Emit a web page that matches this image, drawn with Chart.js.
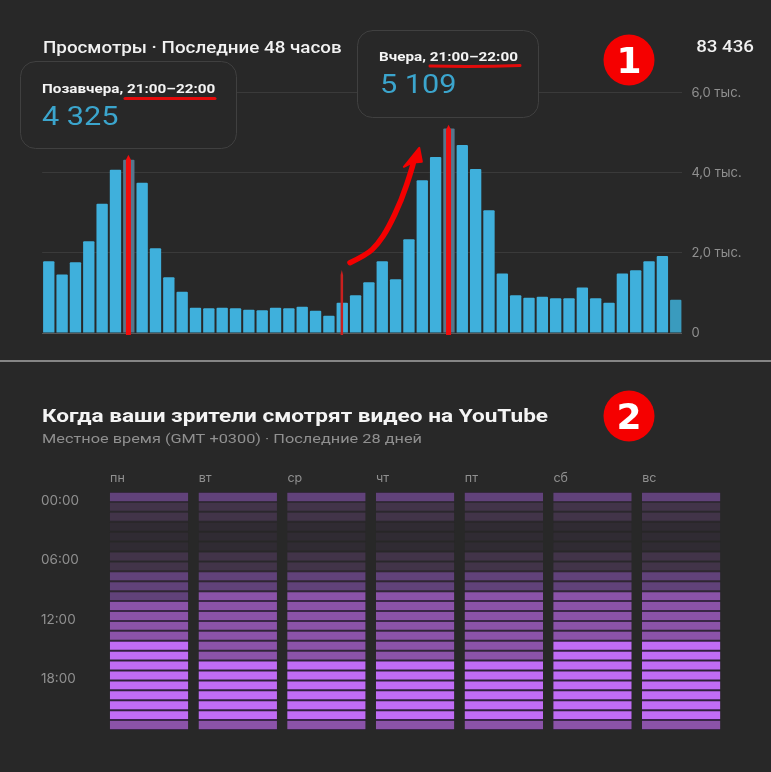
<!DOCTYPE html>
<html lang="ru">
<head>
<meta charset="utf-8">
<title>Просмотры</title>
<script src="https://cdn.jsdelivr.net/npm/chart.js@4"></script>
<style>
html,body{margin:0;padding:0;background:#282828;width:771px;height:772px;overflow:hidden}
canvas{position:absolute;left:0;display:block}
#viewsChart{top:0}
#heatChart{top:362px}
#sep{position:absolute;left:0;top:360px;width:771px;height:2px;background:#858585}
</style>
</head>
<body>
<canvas id="viewsChart" width="771" height="360"></canvas>
<div id="sep"></div>
<canvas id="heatChart" width="771" height="410"></canvas>
<script>
const hourSlots = ['00','01','02','03','04','05','06','07','08','09','10','11','12','13','14','15','16','17','18','19','20','21','22','23','00','01','02','03','04','05','06','07','08','09','10','11','12','13','14','15','16','17','18','19','20','21','22','23'];
const views = [1790,1458,1767,2290,3225,4075,4325,3750,2117,1392,1033,633,617,633,617,583,567,633,617,658,558,433,758,942,1267,1790,1342,2342,3817,4392,5109,4692,4092,3067,1483,942,883,908,867,867,1133,867,758,1483,1567,1792,1925,833];
const viewTicks = [0,2000,4000,6000];
const viewTickLabels = ['0','2,0 тыс.','4,0 тыс.','6,0 тыс.'];
const dayLabels = ['пн','вт','ср','чт','пт','сб','вс'];
const hourTickLabels = ['00:00','06:00','12:00','18:00'];
const hourTicks = [0,6,12,18];
const heatMon = [3,2,2,1,1,1,2,2,3,3,3,4,4,4,4,6,6,6,6,6,6,6,6,4];
const heatTue = [3,2,2,1,1,1,2,2,3,3,4,4,4,4,4,4,4,6,6,6,6,6,6,4];
const heatWed = [3,2,2,1,1,1,2,2,3,3,4,4,4,4,4,4,4,6,6,6,6,6,6,4];
const heatThu = [3,2,2,1,1,1,2,2,3,3,4,4,4,4,4,4,4,6,6,6,6,6,6,4];
const heatFri = [3,2,2,1,1,1,2,2,3,3,4,4,4,4,4,4,4,6,6,6,6,6,6,4];
const heatSat = [3,2,2,1,1,1,2,2,3,3,4,4,4,4,4,6,6,6,6,6,6,6,6,4];
const heatSun = [3,2,2,1,1,1,2,2,3,3,4,4,4,4,4,6,6,6,6,6,6,6,6,4];
const heatDays = [heatMon,heatTue,heatWed,heatThu,heatFri,heatSat,heatSun];
const levelFill = {1:'#302b33',2:'#423449',3:'#61427a',4:'#8b53a9',6:'#c06cf5'};
const levelGap = {1:'#2a282a',2:'#2f2a33',3:'#35283d',4:'#3a2748',6:'#3b1f50'};

const BG = '#282828', RED = '#f40000';
const FONT = 'Roboto, sans-serif';

// the reference's type is set about a fifth wider than the font's natural width
function txt(ctx,s,x,y,font,color,sx,align){
  ctx.save();
  ctx.translate(x,y); ctx.scale(sx||1,1);
  ctx.font = font; ctx.fillStyle = color; ctx.textAlign = align||'left'; ctx.textBaseline='alphabetic';
  ctx.fillText(s,0,0);
  ctx.restore();
}
function roundBox(ctx,x,y,w,h,r){
  ctx.beginPath(); ctx.roundRect(x,y,w,h,r);
  ctx.fillStyle = BG; ctx.fill();
  ctx.strokeStyle = '#404040'; ctx.lineWidth = 1; ctx.stroke();
}
function badge(ctx,x,y,r,s){
  ctx.beginPath(); ctx.arc(x,y,r,0,Math.PI*2); ctx.fillStyle = '#f50000'; ctx.fill();
  ctx.font = 'bold 36px "DejaVu Sans"'; ctx.fillStyle='#fff'; ctx.textAlign='center'; ctx.textBaseline='alphabetic';
  ctx.fillText(s,x,y+13);
}

const viewsOverlay = {
  id:'viewsOverlay',
  afterDraw(chart){
    const ctx = chart.ctx, X = chart.scales.x, Y = chart.scales.y;
    const P = (i,v)=>[X.getPixelForValue(i),Y.getPixelForValue(v)];
    ctx.save();
    ctx.lineCap='round';
    const needle=(i,top,w,color)=>{
      const x=X.getPixelForValue(i)-0.4, yT=Y.getPixelForValue(top), yB=Y.getPixelForValue(-50);
      ctx.fillStyle=color;
      ctx.beginPath();
      ctx.moveTo(x,yT); ctx.lineTo(x+w/2,yT+5); ctx.lineTo(x+w/2,yB); ctx.lineTo(x-w/2,yB); ctx.lineTo(x-w/2,yT+5);
      ctx.closePath(); ctx.fill();
    };
    needle(6,4450,5,'#f20c0c');
    needle(30,5200,5,'#f20c0c');
    needle(22,1575,2.5,'#c9201f');
    // curved arrow, smoothed through midpoints
    const pts=[[22.58,1757],[23.83,1950],[24.68,2225],[25.45,2617],[26.45,3325],[27.2,4075],[27.42,4375]].map(p=>P(p[0],p[1]));
    ctx.strokeStyle=RED; ctx.lineWidth=5.5; ctx.lineJoin='round';
    ctx.beginPath(); ctx.moveTo(pts[0][0],pts[0][1]);
    for(let k=1;k<pts.length-1;k++){
      ctx.quadraticCurveTo(pts[k][0],pts[k][1],(pts[k][0]+pts[k+1][0])/2,(pts[k][1]+pts[k+1][1])/2);
    }
    ctx.lineTo(pts[pts.length-1][0],pts[pts.length-1][1]);
    ctx.stroke();
    const tip=P(27.77,4625), hl=P(26.62,4150), hr=P(27.97,4275), hm=P(27.2,4250);
    ctx.fillStyle=RED; ctx.lineWidth=2;
    ctx.beginPath(); ctx.moveTo(tip[0],tip[1]); ctx.lineTo(hr[0],hr[1]); ctx.lineTo(hm[0],hm[1]); ctx.lineTo(hl[0],hl[1]); ctx.closePath(); ctx.fill(); ctx.stroke();

    txt(ctx,'Просмотры · Последние 48 часов',43,53,'500 15.6px '+FONT,'#f1f1f1',1.205);
    txt(ctx,'83 436',754,52,'500 15.6px '+FONT,'#f1f1f1',1.2,'right');
    roundBox(ctx,20.5,61.5,216,87,15);
    txt(ctx,'Позавчера, 21:00–22:00',42,93,'bold 12.5px '+FONT,'#f4f4f4',1.22);
    txt(ctx,'4 325',42,125,'26px '+FONT,'#3ba5cd',1.18);
    roundBox(ctx,357.5,30.5,181,87,15);
    txt(ctx,'Вчера, 21:00–22:00',379,61,'bold 12.5px '+FONT,'#f4f4f4',1.22);
    txt(ctx,'5 109',380,93,'26px '+FONT,'#3ba5cd',1.18);
    ctx.strokeStyle='#e30b0b'; ctx.lineWidth=3;
    ctx.beginPath(); ctx.moveTo(125,98.5); ctx.lineTo(215,98.5); ctx.stroke();
    ctx.beginPath(); ctx.moveTo(430,66); ctx.quadraticCurveTo(475,67,520,65.5); ctx.stroke();
    badge(ctx,629,60,25.5,'1');
    ctx.restore();
  }
};

new Chart(document.getElementById('viewsChart'),{
  type:'bar',
  data:{labels:hourSlots,datasets:[{
    data:views,
    backgroundColor:views.map((v,i)=>(i===6||i===30)?'#55768c':(i===views.length-1?'#3a9bbe':'#3fb0dc')),
    categoryPercentage:1,barPercentage:0.85,borderRadius:{topLeft:1,topRight:1}
  }]},
  options:{
    responsive:false,animation:false,
    layout:{padding:{left:42.1,right:0,top:92.7,bottom:27}},
    plugins:{legend:{display:false},tooltip:{enabled:false}},
    scales:{
      x:{display:false},
      y:{position:'right',min:0,max:6000,
        afterFit(s){s.width=771-682.4;},
        afterBuildTicks(s){s.ticks=viewTicks.map(v=>({value:v}));},
        border:{display:false},
        grid:{drawTicks:false,tickLength:0,color:c=>c.tick&&c.tick.value===0?'#5a5a5a':'#3a3a3a',lineWidth:1},
        ticks:{padding:9,color:'#909090',font:{family:'Inter',size:13},
          callback:(v)=>viewTickLabels[viewTicks.indexOf(v)]}
      }
    }
  },
  plugins:[viewsOverlay]
});

const heatOverlay = {
  id:'heatOverlay',
  afterDraw(chart){
    const ctx=chart.ctx;
    ctx.save();
    txt(ctx,'Когда ваши зрители смотрят видео на YouTube',42,60,'bold 18px '+FONT,'#f4f4f4',1.255);
    txt(ctx,'Местное время (GMT +0300) · Последние 28 дней',42,81,'13.6px '+FONT,'#909090',1.2);
    badge(ctx,629,54,25.5,'2');
    ctx.restore();
  }
};

const hourIndex = heatMon.map((_,h)=>h);
new Chart(document.getElementById('heatChart'),{
  type:'bar',
  data:{labels:dayLabels,datasets:hourIndex.map(h=>({
    data:heatDays.map(()=>1),
    backgroundColor:heatDays.map(d=>levelFill[d[h]]),
    borderColor:heatDays.map(d=>levelGap[d[h]]),
    borderWidth:{top:1,bottom:1,left:0,right:0},
    borderSkipped:false,
    categoryPercentage:1,barPercentage:0.885
  }))},
  options:{
    responsive:false,animation:false,
    layout:{padding:{left:41,right:771-725.5,top:0,bottom:42}},
    plugins:{legend:{display:false},tooltip:{enabled:false}},
    scales:{
      x:{position:'top',stacked:true,
        afterFit(s){s.height=130;},
        border:{display:false},grid:{display:false,drawTicks:false},
        ticks:{padding:6,align:'start',labelOffset:-39,maxRotation:0,color:'#909090',font:{family:'Inter',size:12.5}}
      },
      y:{position:'left',stacked:true,reverse:true,min:0,max:24,
        afterFit(s){s.width=63.7;},
        afterBuildTicks(s){s.ticks=hourTicks.map(v=>({value:v+0.9}));},
        border:{display:false},grid:{display:false,drawTicks:false},
        ticks:{padding:0,crossAlign:'far',color:'#909090',font:{family:'Inter',size:13.5},
          callback:(v,i)=>hourTickLabels[i]}
      }
    }
  },
  plugins:[heatOverlay]
});
</script>
</body>
</html>
